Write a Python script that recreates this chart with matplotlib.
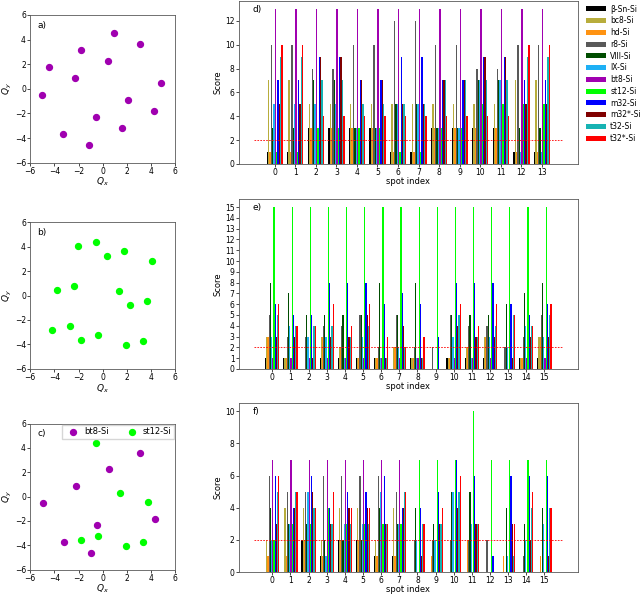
import numpy as np
import matplotlib
matplotlib.use("Agg")
import matplotlib.pyplot as plt

# ------------------------------------------------------------
# 1. Spot positions (Qx, Qy) of the two diffraction patterns
# ------------------------------------------------------------
bt8_qx = [0.95, 3.10, -1.77, 0.40, -4.46, -2.28, 4.79, -4.98, 2.08, 4.26, -0.59, 1.59, -3.30, -1.12]
bt8_qy = [4.50, 3.63, 3.12, 2.25, 1.74, 0.87, 0.46, -0.54, -0.92, -1.82, -2.31, -3.18, -3.69, -4.59]

st12_qx = [-2.02, -0.59, 0.34, 1.74, 4.08, -3.78, -2.38, 1.37, 3.69, 2.27, -4.16, -2.73, -1.83, -0.40, 1.91, 3.34]
st12_qy = [4.05, 4.40, 3.26, 3.61, 2.82, 0.43, 0.76, 0.33, -0.43, -0.79, -2.82, -2.47, -3.61, -3.26, -4.05, -3.69]

# mixed pattern (panel c): 8 bt8 spots + visible st12 spots
mix_bt8_qx = [-4.90, -2.20, 0.50, 3.10, 4.30, -0.50, -3.20, -1.00]
mix_bt8_qy = [-0.50, 0.90, 2.25, 3.60, -1.80, -2.30, -3.70, -4.60]
mix_st12_qx = [-0.55, 1.40, 3.70, -1.80, -0.35, 1.95, 3.35]
mix_st12_qy = [4.40, 0.33, -0.43, -3.60, -3.26, -4.05, -3.70]

# ------------------------------------------------------------
# 2. Scores per spot (rows) for each reference phase (columns)
# ------------------------------------------------------------
phases = ['β-Sn-Si', 'bc8-Si', 'hd-Si', 'r8-Si', 'VIII-Si', 'IX-Si',
          'bt8-Si', 'st12-Si', 'm32-Si', 'm32*-Si', 't32-Si', 't32*-Si']
colors = ['#000000', '#b8ad3c', '#ff9312', '#595959', '#004d00', '#1eb0f5',
          '#a000b0', '#00ff00', '#0000ff', '#800000', '#17b3b3', '#ff0000']

scores_d = [
    [1, 7, 1, 10, 3, 5, 13, 1, 7, 5, 9, 10],
    [1, 7, 1, 10, 3, 5, 13, 1, 7, 5, 9, 10],
    [3, 5, 3, 8, 7, 5, 13, 3, 9, 9, 7, 4],
    [3, 5, 3, 8, 7, 5, 13, 3, 9, 9, 7, 4],
    [3, 5, 3, 10, 3, 3, 13, 3, 7, 7, 5, 4],
    [3, 5, 3, 10, 3, 3, 13, 3, 7, 7, 5, 4],
    [1, 5, 1, 12, 5, 5, 13, 1, 9, 5, 5, 4],
    [1, 5, 1, 12, 5, 5, 13, 1, 9, 5, 5, 4],
    [3, 5, 3, 10, 3, 3, 13, 3, 7, 7, 7, 4],
    [3, 5, 3, 10, 3, 3, 13, 3, 7, 7, 7, 4],
    [3, 5, 3, 8, 7, 7, 13, 5, 9, 9, 7, 4],
    [3, 5, 3, 8, 7, 7, 13, 5, 9, 9, 7, 4],
    [1, 7, 1, 10, 3, 1, 13, 5, 7, 5, 9, 10],
    [1, 7, 1, 10, 3, 1, 13, 5, 7, 5, 9, 10],
]

scores_e = [
    [1, 3, 3, 5, 8, 3, 1, 15, 6, 3, 5, 6],
    [1, 1, 1, 3, 7, 4, 1, 15, 5, 3, 4, 4],
    [0, 0, 0, 3, 5, 3, 1, 15, 5, 1, 4, 4],
    [1, 3, 3, 4, 5, 3, 1, 15, 8, 3, 4, 6],
    [1, 2, 2, 4, 5, 1, 1, 15, 8, 3, 3, 4],
    [1, 1, 1, 5, 5, 3, 1, 15, 8, 5, 4, 6],
    [1, 1, 1, 2, 8, 1, 1, 15, 6, 1, 1, 3],
    [0, 2, 2, 5, 5, 2, 1, 15, 7, 4, 2, 2],
    [1, 1, 1, 2, 8, 1, 1, 15, 6, 1, 1, 3],
    [0, 0, 0, 2, 0, 0, 0, 15, 3, 0, 0, 0],
    [1, 1, 1, 5, 5, 3, 1, 15, 8, 4, 5, 6],
    [1, 2, 2, 4, 5, 1, 1, 15, 8, 3, 3, 4],
    [1, 3, 3, 4, 5, 3, 1, 15, 8, 3, 4, 6],
    [0, 0, 0, 2, 6, 2, 0, 15, 6, 1, 5, 5],
    [1, 1, 1, 3, 7, 4, 1, 15, 5, 3, 4, 4],
    [1, 3, 3, 5, 8, 3, 1, 15, 6, 3, 5, 6],
]

scores_f = [
    [0, 2, 1, 6, 4, 2, 7, 2, 6, 3, 5, 6],
    [0, 4, 1, 5, 3, 3, 7, 3, 4, 4, 5, 5],
    [2, 4, 2, 5, 3, 5, 7, 3, 6, 5, 4, 4],
    [1, 2, 1, 6, 2, 1, 7, 4, 4, 3, 3, 5],
    [2, 4, 2, 6, 2, 3, 7, 3, 5, 4, 3, 4],
    [2, 4, 2, 6, 2, 3, 7, 3, 5, 4, 3, 4],
    [1, 2, 1, 6, 4, 5, 7, 3, 6, 3, 3, 3],
    [1, 4, 1, 5, 3, 3, 7, 3, 4, 4, 5, 5],
    [0, 0, 0, 2, 4, 2, 0, 7, 4, 1, 3, 3],
    [0, 0, 1, 2, 3, 2, 0, 7, 5, 3, 3, 4],
    [0, 0, 0, 2, 5, 5, 0, 7, 7, 4, 5, 6],
    [0, 0, 2, 2, 5, 3, 0, 10, 6, 3, 3, 3],
    [0, 0, 0, 2, 0, 0, 0, 7, 1, 0, 0, 0],
    [0, 0, 1, 0, 4, 1, 0, 7, 6, 3, 1, 3],
    [0, 0, 0, 1, 3, 2, 0, 7, 6, 2, 4, 5],
    [0, 0, 1, 0, 4, 3, 0, 7, 6, 1, 4, 4],
]

threshold = 2

# ------------------------------------------------------------
# 3. Figure
# ------------------------------------------------------------
plt.rcParams['font.size'] = 5.5
plt.rcParams['axes.linewidth'] = 0.6
plt.rcParams['axes.edgecolor'] = '0.35'
plt.rcParams['xtick.major.width'] = 0.5
plt.rcParams['ytick.major.width'] = 0.5
plt.rcParams['xtick.major.size'] = 2
plt.rcParams['ytick.major.size'] = 2

fig = plt.figure(figsize=(6.4, 5.94), dpi=100)

ax_a = fig.add_axes([0.047, 0.726, 0.227, 0.249])
ax_b = fig.add_axes([0.047, 0.379, 0.227, 0.247])
ax_c = fig.add_axes([0.047, 0.041, 0.227, 0.246])
ax_d = fig.add_axes([0.373, 0.724, 0.530, 0.274])
ax_e = fig.add_axes([0.373, 0.379, 0.530, 0.286])
ax_f = fig.add_axes([0.373, 0.037, 0.530, 0.284])

bt8_col = colors[6]
st12_col = colors[7]

ax_a.scatter(bt8_qx, bt8_qy, s=18, color=bt8_col)
ax_b.scatter(st12_qx, st12_qy, s=18, color=st12_col)
ax_c.scatter(mix_bt8_qx, mix_bt8_qy, s=18, color=bt8_col, label='bt8-Si')
ax_c.scatter(mix_st12_qx, mix_st12_qy, s=18, color=st12_col, label='st12-Si')
ax_c.legend(loc='upper right', ncol=2, fontsize=6, borderpad=0.3,
            handletextpad=0.3, columnspacing=1.8, borderaxespad=0.15,
            fancybox=False, framealpha=0.8)

for ax, lab in zip([ax_a, ax_b, ax_c], ['a)', 'b)', 'c)']):
    ax.set_xlim(-6, 6)
    ax.set_ylim(-6, 6)
    ax.set_xticks(np.arange(-6, 7, 2))
    ax.set_yticks(np.arange(-6, 7, 2))
    ax.set_xlabel(r'$Q_x$', fontsize=6.5, labelpad=0)
    ax.set_ylabel(r'$Q_y$', fontsize=6.5, labelpad=0.5)
    ax.tick_params(labelsize=5.5, pad=1)
    ax.text(0.05, 0.93, lab, transform=ax.transAxes, fontsize=6.5, va='center')

# bar panels
w = 0.066
for ax, scores, lab, yt in [(ax_d, scores_d, 'd)', np.arange(0, 13, 2)),
                            (ax_e, scores_e, 'e)', np.arange(0, 16, 1)),
                            (ax_f, scores_f, 'f)', np.arange(0, 11, 2))]:
    arr = np.array(scores)
    nspot = arr.shape[0]
    idx = np.arange(nspot)
    for k in range(len(phases)):
        ax.bar(idx + (k - 5.5) * w, arr[:, k], width=w, color=colors[k], label=phases[k])
    ax.hlines(threshold, -1, nspot, colors='red', linestyles=(0, (2, 1.5)), linewidth=0.6)
    ax.set_xticks(idx)
    ax.set_yticks(yt)
    ax.set_xlabel('spot index', fontsize=6, labelpad=0)
    ax.set_ylabel('Score', fontsize=6, labelpad=2)
    ax.tick_params(labelsize=5.5, pad=1)
    ax.text(0.04, 0.95, lab, transform=ax.transAxes, fontsize=6.5, va='center')

handles, labels = ax_d.get_legend_handles_labels()
fig.legend(handles, labels, loc='upper left', bbox_to_anchor=(0.908, 1.0),
           frameon=False, fontsize=5.5, handlelength=2.6, handleheight=0.6,
           labelspacing=0.36, handletextpad=0.6, borderaxespad=0.2)

fig.savefig('out.png', dpi=100)
